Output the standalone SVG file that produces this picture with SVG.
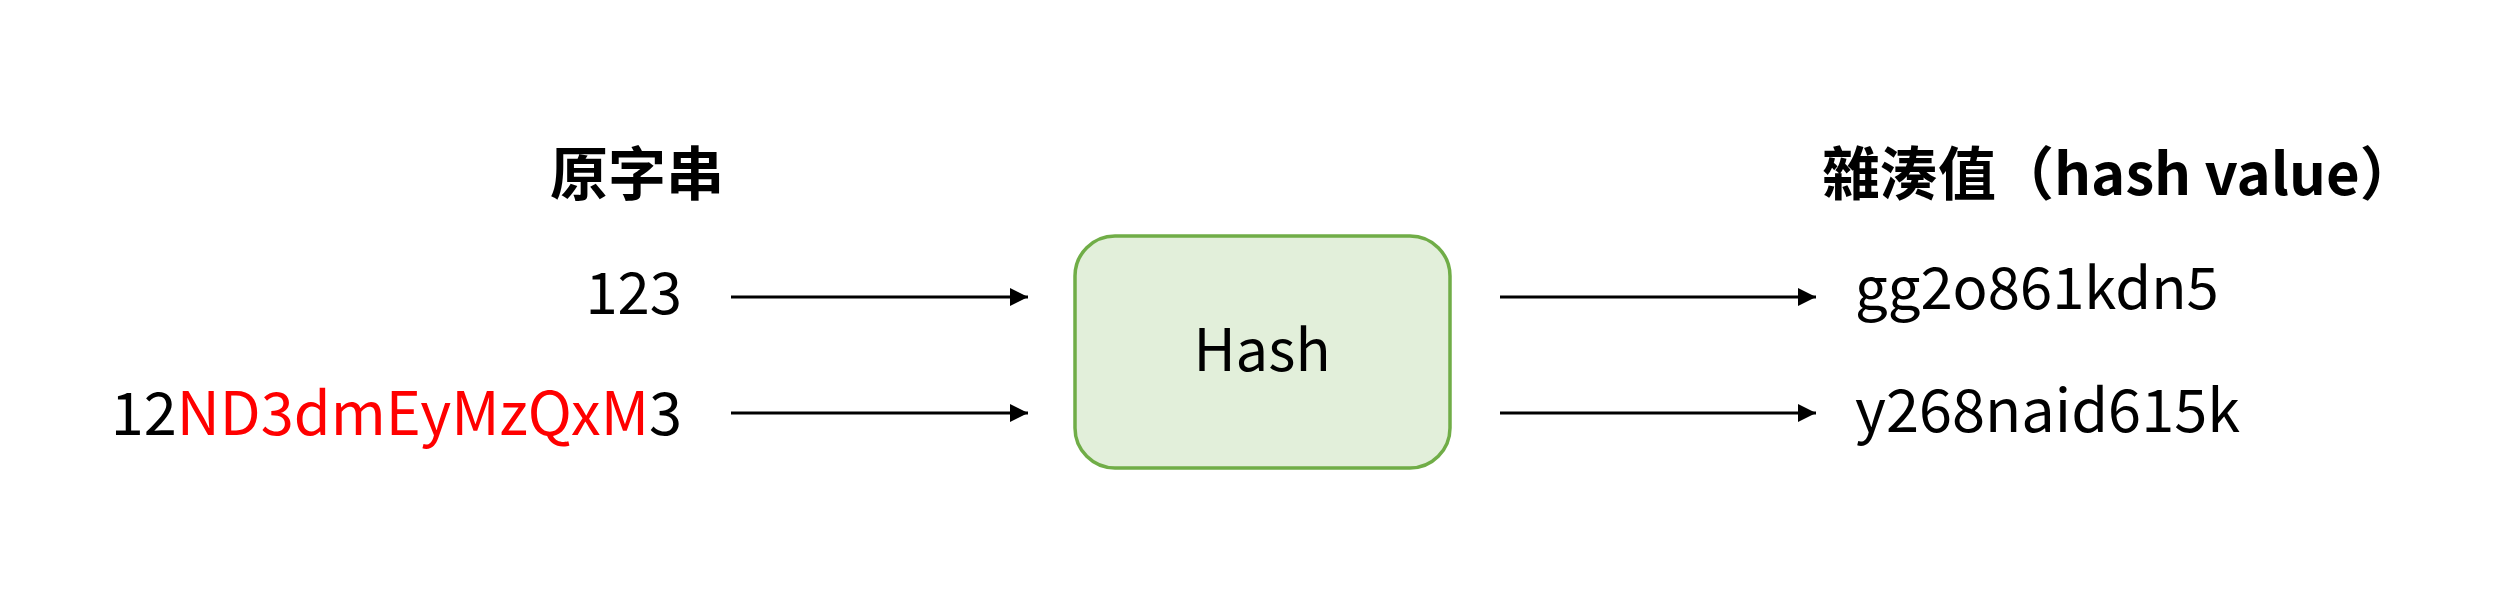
<svg xmlns="http://www.w3.org/2000/svg" width="2500" height="607" viewBox="0 0 2500 607">
<style>
text{font-family:"Noto Sans CJK TC","Noto Sans CJK SC",sans-serif;fill:#000}
.h{font-size:58px;font-weight:bold}
.t{font-size:58px}
.w{font-size:59.5px}
.r{fill:#FF0000}
.c{stroke:#000;stroke-width:3;fill:none}
</style>
<defs>
<marker id="ah" markerWidth="6" markerHeight="6" refX="6" refY="3" orient="auto" markerUnits="strokeWidth">
<path d="M0,0 L6,3 L0,6 Z" fill="#000"/>
</marker>
</defs>
<rect width="2500" height="607" fill="#fff"/>
<g id="label-left"><text class="h" x="637" y="195" text-anchor="middle">原字串</text></g>
<g id="label-right"><text class="h" x="1822" y="195">雜湊值（hash value）</text></g>
<g id="in1"><text class="t" x="682" y="314" text-anchor="end">123</text></g>
<g id="in2"><text class="t w" x="682" y="435" text-anchor="end">12<tspan class="r">ND3dmEyMzQxM</tspan>3</text></g>
<g id="hash">
<rect x="1075" y="236" width="375" height="232" rx="40" ry="40" fill="#E2EFDA" stroke="#70AD47" stroke-width="3.5"/>
<text class="t" x="1262" y="371" text-anchor="middle">Hash</text>
</g>
<g id="out1"><text class="t" x="1855" y="309">gg2o861kdn5</text></g>
<g id="out2"><text class="t w" x="1855" y="432">y268naid615k</text></g>
<g id="connectors">
<line class="c" x1="731" y1="297" x2="1028" y2="297" marker-end="url(#ah)"/>
<line class="c" x1="731" y1="413" x2="1028" y2="413" marker-end="url(#ah)"/>
<line class="c" x1="1500" y1="297" x2="1816" y2="297" marker-end="url(#ah)"/>
<line class="c" x1="1500" y1="413" x2="1816" y2="413" marker-end="url(#ah)"/>
</g>
</svg>
